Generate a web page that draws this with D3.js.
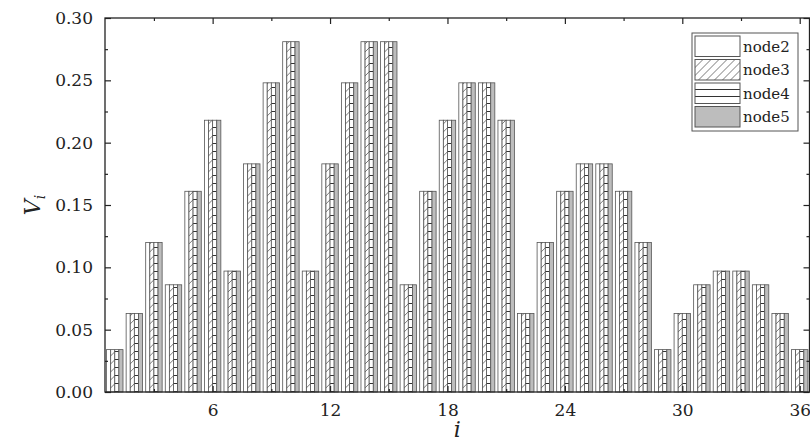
<!DOCTYPE html>
<html>
<head>
<meta charset="utf-8">
<script src="https://cdn.jsdelivr.net/npm/d3@7/dist/d3.min.js"></script>
<style>
  html, body { margin: 0; padding: 0; background: #fff; }
  svg { display: block; }
  text { font-family: "DejaVu Serif", "Liberation Serif", serif; fill: #222; }
</style>
</head>
<body>
<svg id="chart" width="810" height="444"></svg>
<script>
// Index i of each group
const categories = d3.range(1, 37);

// V_i for each node (the four nodes share the same values)
const node2 = [0.034, 0.063, 0.120, 0.086, 0.161, 0.218, 0.097, 0.183, 0.248, 0.281, 0.097, 0.183,
               0.248, 0.281, 0.281, 0.086, 0.161, 0.218, 0.248, 0.248, 0.218, 0.063, 0.120, 0.161,
               0.183, 0.183, 0.161, 0.120, 0.034, 0.063, 0.086, 0.097, 0.097, 0.086, 0.063, 0.034];
const node3 = [0.034, 0.063, 0.120, 0.086, 0.161, 0.218, 0.097, 0.183, 0.248, 0.281, 0.097, 0.183,
               0.248, 0.281, 0.281, 0.086, 0.161, 0.218, 0.248, 0.248, 0.218, 0.063, 0.120, 0.161,
               0.183, 0.183, 0.161, 0.120, 0.034, 0.063, 0.086, 0.097, 0.097, 0.086, 0.063, 0.034];
const node4 = [0.034, 0.063, 0.120, 0.086, 0.161, 0.218, 0.097, 0.183, 0.248, 0.281, 0.097, 0.183,
               0.248, 0.281, 0.281, 0.086, 0.161, 0.218, 0.248, 0.248, 0.218, 0.063, 0.120, 0.161,
               0.183, 0.183, 0.161, 0.120, 0.034, 0.063, 0.086, 0.097, 0.097, 0.086, 0.063, 0.034];
const node5 = [0.034, 0.063, 0.120, 0.086, 0.161, 0.218, 0.097, 0.183, 0.248, 0.281, 0.097, 0.183,
               0.248, 0.281, 0.281, 0.086, 0.161, 0.218, 0.248, 0.248, 0.218, 0.063, 0.120, 0.161,
               0.183, 0.183, 0.161, 0.120, 0.034, 0.063, 0.086, 0.097, 0.097, 0.086, 0.063, 0.034];

const seriesNames = ["node2", "node3", "node4", "node5"];
const seriesValues = [node2, node3, node4, node5];

const xTickValues = [6, 12, 18, 24, 30, 36];
const xMinorTicks = [3, 9, 15, 21, 27, 33];
const yTickValues = [0, 0.05, 0.10, 0.15, 0.20, 0.25, 0.30];
const yMinorTicks = [0.025, 0.075, 0.125, 0.175, 0.225, 0.275];

const svg = d3.select("#chart");
const plotL = 105, plotR = 809.5, plotT = 18, plotB = 392;

// Scales
const xLin = d3.scaleLinear().domain([0.5, 36.5]).range([plotL, plotR]);
const xBand = d3.scaleBand().domain(categories).range([plotL, plotR])
  .paddingInner(0.16).paddingOuter(0.08);
const xSub = d3.scaleBand().domain(seriesNames).range([0, xBand.bandwidth()]);
const y = d3.scaleLinear().domain([0, 0.30]).range([plotB, plotT]);

// Fill patterns
const defs = svg.append("defs");
function diagPattern(id) {
  const p = defs.append("pattern").attr("id", id)
    .attr("patternUnits", "userSpaceOnUse").attr("width", 8).attr("height", 8);
  p.append("rect").attr("width", 8).attr("height", 8).attr("fill", "#fff");
  p.append("path").attr("d", "M-2,10 L10,-2 M-2,2 L2,-2 M6,10 L10,6")
    .attr("stroke", "#555").attr("stroke-width", 0.8);
}
function horizPattern(id, step) {
  const p = defs.append("pattern").attr("id", id)
    .attr("patternUnits", "userSpaceOnUse").attr("width", 8).attr("height", step);
  p.append("rect").attr("width", 8).attr("height", step).attr("fill", "#fff");
  p.append("path").attr("d", `M0,${step - 0.5} L8,${step - 0.5}`).attr("stroke", "#333").attr("stroke-width", 1);
}
diagPattern("p-node3");
horizPattern("p-node4", 8);
horizPattern("p-node4-key", 7);

const fills = {
  node2: "#ffffff",
  node3: "url(#p-node3)",
  node4: "url(#p-node4)",
  node5: "#bdbdbd"
};
const keyFills = Object.assign({}, fills, { node4: "url(#p-node4-key)" });

// Bars
const groups = svg.append("g").selectAll("g")
  .data(categories)
  .join("g")
  .attr("transform", d => `translate(${xBand(d)},0)`);

groups.selectAll("rect")
  .data((d, i) => seriesNames.map((name, k) => ({ name, value: seriesValues[k][i] })))
  .join("rect")
  .attr("x", d => xSub(d.name))
  .attr("width", xSub.bandwidth())
  .attr("y", d => y(d.value))
  .attr("height", d => y(0) - y(d.value))
  .attr("fill", d => fills[d.name])
  .attr("stroke", "#555")
  .attr("stroke-width", 0.8);

// Axes (ticks pointing inward)
const axisColor = "#222";
function styleAxis(g) {
  g.select(".domain").remove();
  g.selectAll("line").attr("stroke", axisColor).attr("stroke-width", 1.2);
}

svg.append("g").attr("transform", `translate(0,${plotB})`)
  .call(d3.axisBottom(xLin).tickValues(xTickValues).tickFormat(d3.format("d")).tickSizeInner(-6).tickPadding(12))
  .call(styleAxis)
  .call(g => g.selectAll("text").attr("font-size", 17).attr("fill", "#222"));
svg.append("g").attr("transform", `translate(0,${plotB})`)
  .call(d3.axisBottom(xLin).tickValues(xMinorTicks).tickFormat("").tickSizeInner(-3))
  .call(styleAxis);
svg.append("g").attr("transform", `translate(0,${plotT})`)
  .call(d3.axisTop(xLin).tickValues(xTickValues).tickFormat("").tickSizeInner(-6))
  .call(styleAxis);
svg.append("g").attr("transform", `translate(0,${plotT})`)
  .call(d3.axisTop(xLin).tickValues(xMinorTicks).tickFormat("").tickSizeInner(-3))
  .call(styleAxis);

svg.append("g").attr("transform", `translate(${plotL},0)`)
  .call(d3.axisLeft(y).tickValues(yTickValues).tickFormat(d3.format(".2f")).tickSizeInner(-6).tickPadding(12))
  .call(styleAxis)
  .call(g => g.selectAll("text").attr("font-size", 17).attr("fill", "#222"));
svg.append("g").attr("transform", `translate(${plotL},0)`)
  .call(d3.axisLeft(y).tickValues(yMinorTicks).tickFormat("").tickSizeInner(-3))
  .call(styleAxis);
svg.append("g").attr("transform", `translate(${plotR},0)`)
  .call(d3.axisRight(y).tickValues(yTickValues).tickFormat("").tickSizeInner(-6))
  .call(styleAxis);
svg.append("g").attr("transform", `translate(${plotR},0)`)
  .call(d3.axisRight(y).tickValues(yMinorTicks).tickFormat("").tickSizeInner(-3))
  .call(styleAxis);

// Frame
svg.append("rect")
  .attr("x", plotL).attr("y", plotT)
  .attr("width", plotR - plotL).attr("height", plotB - plotT)
  .attr("fill", "none").attr("stroke", axisColor).attr("stroke-width", 1.3);

// Axis titles
svg.append("text")
  .attr("x", (plotL + plotR) / 2).attr("y", 437)
  .attr("text-anchor", "middle")
  .attr("font-size", 22).attr("font-style", "italic")
  .text("i");

const yTitle = svg.append("text")
  .attr("transform", `translate(40,${(plotT + plotB) / 2}) rotate(-90)`)
  .attr("text-anchor", "middle")
  .attr("font-size", 22);
yTitle.append("tspan").attr("font-style", "italic").text("V");
yTitle.append("tspan").attr("font-style", "italic").attr("font-size", 14).attr("dy", 5).text("i");

// Legend
const lgX = 692, lgY = 33, lgW = 106, rowH = 23.5;
const legend = svg.append("g");
legend.append("rect")
  .attr("x", lgX).attr("y", lgY).attr("width", lgW).attr("height", rowH * 4 + 4)
  .attr("fill", "#fff").attr("stroke", "#555").attr("stroke-width", 1);
const rows = legend.selectAll("g.row")
  .data(seriesNames)
  .join("g").attr("class", "row")
  .attr("transform", (d, i) => `translate(${lgX + 3},${lgY + 3 + i * rowH})`);
rows.append("rect")
  .attr("width", 45).attr("height", rowH - 3)
  .attr("fill", d => keyFills[d])
  .attr("stroke", "#555").attr("stroke-width", 1);
rows.append("text")
  .attr("x", 48).attr("y", rowH / 2 + 4)
  .attr("font-size", 15)
  .text(d => d);
</script>
</body>
</html>
